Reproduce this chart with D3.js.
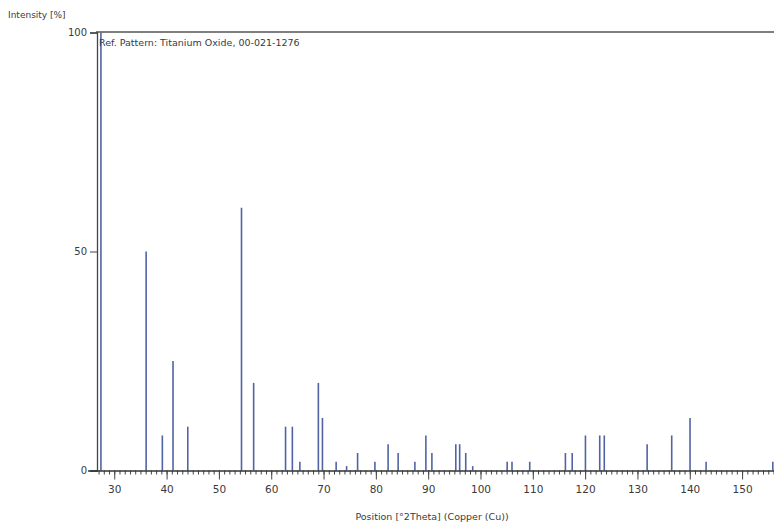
<!DOCTYPE html>
<html lang="en">
<head>
    <meta charset="UTF-8">
    <title>Ref. Pattern: Titanium Oxide</title>
    <script src="https://d3js.org/d3.v7.min.js"></script>
    <style>
        body { margin: 0; background: #fff; }
        svg text { font-family: "DejaVu Sans", sans-serif; fill: #3a3a3a; }
    </style>
</head>
<body>
    <script>
        // Reference pattern peaks (position in 2Theta, relative intensity %)
        const positions = [27.45, 36.09, 39.19, 41.23, 44.05, 54.32, 56.64, 62.74, 64.04, 65.48,
            69.01, 69.79, 72.41, 74.41, 76.51, 79.82, 82.34, 84.26, 87.46, 89.56,
            90.71, 95.28, 96.02, 97.18, 98.51, 105.10, 106.02, 109.41, 116.23, 117.53,
            120.06, 122.79, 123.66, 131.85, 136.55, 140.05, 143.12, 155.87];
        const intensities = [100, 50, 8, 25, 10, 60, 20, 10, 10, 2,
            20, 12, 2, 1, 4, 2, 6, 4, 2, 8,
            4, 6, 6, 4, 1, 2, 2, 2, 4, 4,
            8, 8, 8, 6, 8, 12, 2, 2];
        const xTicks = [30, 40, 50, 60, 70, 80, 90, 100, 110, 120, 130, 140, 150];
        const yTicks = [0, 50, 100];

        const width = 774, height = 525;
        const svg = d3.select("body").append("svg")
            .attr("width", width)
            .attr("height", height);

        const x = d3.scaleLinear().domain([26.7, 156.1]).range([97, 774]);
        const y = d3.scaleLinear().domain([0, 100]).range([470.5, 32.5]);

        // peaks
        svg.selectAll("line.peak")
            .data(positions)
            .enter()
            .append("line")
            .attr("class", "peak")
            .attr("x1", d => x(d))
            .attr("x2", d => x(d))
            .attr("y1", y(0))
            .attr("y2", (d, i) => y(intensities[i]))
            .attr("stroke", "#5163a6")
            .attr("stroke-width", 1.6);

        // top border
        svg.append("line")
            .attr("x1", 96).attr("x2", width)
            .attr("y1", 32).attr("y2", 32)
            .attr("stroke", "#555").attr("stroke-width", 1.6);

        // y axis
        const yAxis = svg.append("g")
            .attr("transform", "translate(97,0)")
            .call(d3.axisLeft(y).tickValues(yTicks).tickSize(7).tickPadding(3));
        yAxis.select(".domain").attr("stroke", "#444").attr("stroke-width", 1.3);
        yAxis.selectAll(".tick line").attr("stroke", "#444");
        yAxis.selectAll("text").style("font-size", "10px");

        // x axis, minor ticks every degree
        const xAxisMinor = svg.append("g")
            .attr("transform", `translate(0,${y(0)})`)
            .call(d3.axisBottom(x).tickValues(d3.range(27, 157)).tickSize(4).tickFormat(""));
        xAxisMinor.select(".domain").remove();
        xAxisMinor.selectAll(".tick line").attr("stroke", "#444");

        const xAxis = svg.append("g")
            .attr("transform", `translate(0,${y(0)})`)
            .call(d3.axisBottom(x).tickValues(xTicks).tickSize(9).tickSizeOuter(0).tickPadding(6));
        xAxis.select(".domain").attr("stroke", "#333").attr("stroke-width", 1.4)
            .attr("d", `M88,0.5H${width}`);
        xAxis.selectAll(".tick line").attr("stroke", "#444");
        xAxis.selectAll("text").style("font-size", "10.5px");

        // labels
        svg.append("text")
            .attr("x", 8).attr("y", 18)
            .style("font-size", "9px")
            .text("Intensity [%]");

        svg.append("text")
            .attr("x", 99).attr("y", 46)
            .style("font-size", "9.5px")
            .text("Ref. Pattern: Titanium Oxide, 00-021-1276");

        svg.append("text")
            .attr("x", 432).attr("y", 520)
            .attr("text-anchor", "middle")
            .style("font-size", "9.5px")
            .text("Position [°2Theta] (Copper (Cu))");
    </script>
</body>
</html>
